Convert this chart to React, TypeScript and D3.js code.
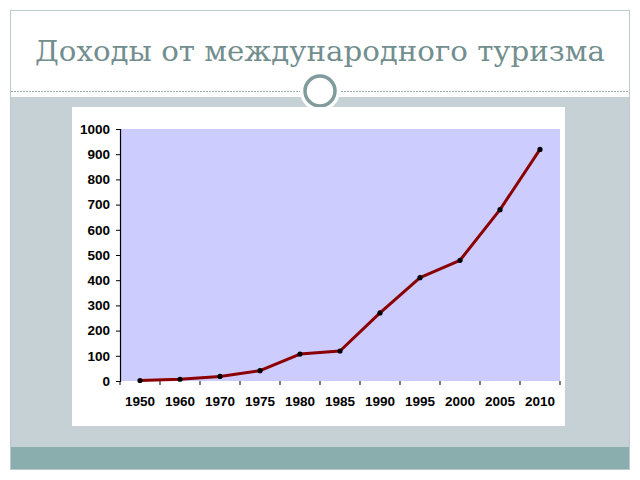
import React, { useEffect, useRef } from 'react';
import * as d3 from 'd3';

const YEARS = ['1950', '1960', '1970', '1975', '1980', '1985', '1990', '1995', '2000', '2005', '2010'];
const INCOME = [2, 7, 18, 41, 107, 119, 270, 410, 479, 680, 919];
const Y_TICKS = [0, 100, 200, 300, 400, 500, 600, 700, 800, 900, 1000];
const TITLE = 'Доходы от международного туризма';

const App: React.FC = () => {
  const svgRef = useRef<SVGSVGElement>(null);

  useEffect(() => {
    if (!svgRef.current) return;
    const svg = d3.select(svgRef.current);
    svg.selectAll('*').remove();

    // slide background
    svg.append('rect').attr('width', 640).attr('height', 480).attr('fill', '#ffffff');
    svg.append('rect')
      .attr('x', 10.5).attr('y', 10.5).attr('width', 619).attr('height', 459)
      .attr('fill', '#ffffff').attr('stroke', '#bcc8cc').attr('stroke-width', 1);
    svg.append('rect')
      .attr('x', 11).attr('y', 97).attr('width', 618).attr('height', 350)
      .attr('fill', '#c6d1d6');
    svg.append('rect')
      .attr('x', 11).attr('y', 447).attr('width', 618).attr('height', 22)
      .attr('fill', '#8aadad');

    // title
    svg.append('text')
      .attr('x', 320).attr('y', 61)
      .attr('text-anchor', 'middle')
      .attr('font-family', 'DejaVu Serif, serif')
      .attr('font-size', 27)
      .attr('fill', '#728e8e')
      .attr('textLength', 570)
      .attr('lengthAdjust', 'spacingAndGlyphs')
      .text(TITLE);

    // dashed separator with ring
    svg.append('line')
      .attr('x1', 11).attr('x2', 629).attr('y1', 91.5).attr('y2', 91.5)
      .attr('stroke', '#9aa8a8').attr('stroke-width', 1).attr('stroke-dasharray', '2,1');
    svg.append('circle')
      .attr('cx', 320).attr('cy', 91).attr('r', 20)
      .attr('fill', '#ffffff');
    svg.append('circle')
      .attr('cx', 320).attr('cy', 91).attr('r', 15)
      .attr('fill', '#ffffff').attr('stroke', '#7f9b9b').attr('stroke-width', 3.5);

    // chart box
    svg.append('rect')
      .attr('x', 72).attr('y', 107).attr('width', 493).attr('height', 319)
      .attr('fill', '#ffffff');

    const left = 120, right = 560, top = 129, bottom = 381;
    const x = d3.scaleBand<string>().domain(YEARS).range([left, right]);
    const y = d3.scaleLinear().domain([0, 1000]).range([bottom, top]);

    svg.append('rect')
      .attr('x', left).attr('y', top).attr('width', right - left).attr('height', bottom - top)
      .attr('fill', '#ccccff');

    // y axis
    const yAxis = svg.append('g')
      .attr('transform', `translate(${left},0)`)
      .call(d3.axisLeft(y).tickValues(Y_TICKS).tickSize(4).tickPadding(6).tickFormat(d3.format('d')));
    yAxis.select('.domain').attr('stroke', '#000').attr('stroke-width', 1.2);
    yAxis.selectAll('.tick line').attr('stroke', '#000');
    yAxis.selectAll('text')
      .attr('font-family', 'Liberation Sans, Arial, sans-serif')
      .attr('font-weight', 'bold').attr('font-size', 13.5).attr('fill', '#000');

    // x axis ticks at category boundaries
    const boundaries = YEARS.map((yr) => x(yr)!).concat([right]);
    svg.append('g').selectAll('line')
      .data(boundaries)
      .enter()
      .append('line')
      .attr('x1', (d) => d).attr('x2', (d) => d)
      .attr('y1', bottom).attr('y2', bottom + 4)
      .attr('stroke', '#000').attr('stroke-width', 1);
    svg.append('g').selectAll('text')
      .data(YEARS)
      .enter()
      .append('text')
      .attr('x', (d) => x(d)! + x.bandwidth() / 2)
      .attr('y', bottom + 25)
      .attr('text-anchor', 'middle')
      .attr('font-family', 'Liberation Sans, Arial, sans-serif')
      .attr('font-weight', 'bold').attr('font-size', 13.5).attr('fill', '#000')
      .text((d) => d);

    // series
    const line = d3.line<number>()
      .x((d, i) => x(YEARS[i])! + x.bandwidth() / 2)
      .y((d) => y(d));
    svg.append('path')
      .datum(INCOME)
      .attr('d', line)
      .attr('fill', 'none')
      .attr('stroke', '#8b0000')
      .attr('stroke-width', 3)
      .attr('stroke-linejoin', 'round');
    svg.append('g').selectAll('circle')
      .data(INCOME)
      .enter()
      .append('circle')
      .attr('cx', (d, i) => x(YEARS[i])! + x.bandwidth() / 2)
      .attr('cy', (d) => y(d))
      .attr('r', 2.6)
      .attr('fill', '#000');
  }, []);

  return (
    <div style={{ position: 'fixed', left: 0, top: 0 }}>
      <svg ref={svgRef} width={640} height={480} style={{ display: 'block' }}></svg>
    </div>
  );
};

export default App;
